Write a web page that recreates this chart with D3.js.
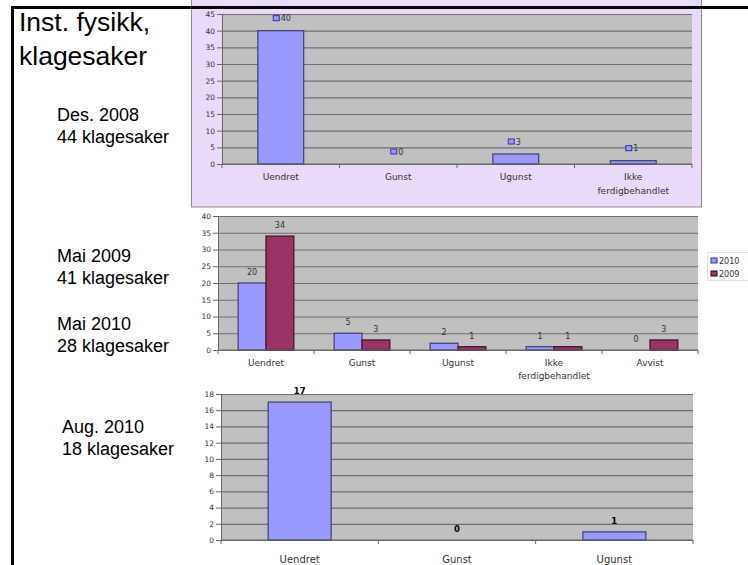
<!DOCTYPE html>
<html lang='no'>
<head>
  <meta charset='UTF-8'>
  <title>Inst. fysikk, klagesaker</title>
  <style>
    body { margin: 0; background: #fff; }
    svg { display: block; }
    .side { font-family: 'Liberation Sans', Arial, sans-serif; fill: #000; }
    .tick text { font-family: 'DejaVu Sans', Verdana, sans-serif; font-size: 7.5px; fill: #333; }
    .cat { font-family: 'Comic Sans MS', 'DejaVu Sans', sans-serif; font-size: 8px; fill: #333; }
    .val { font-family: 'DejaVu Sans', Verdana, sans-serif; font-size: 7.5px; fill: #333; }
  </style>
</head>
<body>
<div id='chart'></div>
<script src='https://d3js.org/d3.v7.min.js'></script>
<script>
  // data
  var topCats = ['Uendret', 'Gunst', 'Ugunst', 'Ikke ferdigbehandlet']
  var topVals = [40, 0, 3, 1]

  var midCats = ['Uendret', 'Gunst', 'Ugunst', 'Ikke ferdigbehandlet', 'Avvist']
  var midSeries = ['2010', '2009']
  var mid2010 = [20, 5, 2, 1, 0]
  var mid2009 = [34, 3, 1, 1, 3]

  var botCats = ['Uendret', 'Gunst', 'Ugunst']
  var botVals = [17, 0, 1]

  var titleLines = ['Inst. fysikk,', 'klagesaker']
  var sideNotes = [
    ['Des. 2008', '44 klagesaker'],
    ['Mai 2009', '41 klagesaker'],
    ['Mai 2010', '28 klagesaker'],
    ['Aug. 2010', '18 klagesaker']
  ]

  var blue = '#9999ff', plum = '#993366'

  var svg = d3.select('#chart').append('svg')
    .attr('width', 748).attr('height', 565)

  // lavender panel behind the first chart
  svg.append('rect')
    .attr('x', 191.5).attr('y', -2).attr('width', 510).attr('height', 209)
    .style('fill', '#e8daf8').style('stroke', '#8a8a8a').style('stroke-width', 1)

  // generic bar chart
  var drawChart = function (cfg) {
    var g = svg.append('g')
    var x = d3.scaleBand().domain(cfg.cats).range([cfg.x0, cfg.x1]).padding(0)
    var y = d3.scaleLinear().domain([0, cfg.max]).range([cfg.y1, cfg.y0])
    var ticks = d3.range(0, cfg.max + 0.001, cfg.step)

    // plot area
    g.append('rect')
      .attr('x', cfg.x0).attr('y', cfg.y0)
      .attr('width', cfg.x1 - cfg.x0).attr('height', cfg.y1 - cfg.y0)
      .style('fill', '#c0c0c0')

    // gridlines
    g.append('g')
      .attr('transform', 'translate(' + cfg.x0 + ',0)')
      .call(d3.axisLeft(y).tickValues(ticks).tickSize(-(cfg.x1 - cfg.x0)).tickFormat(''))
      .call(function (s) {
        s.select('.domain').remove()
        s.selectAll('line').style('stroke', '#6e6e6e').style('stroke-width', 1.2)
      })

    // y axis
    g.append('g')
      .attr('transform', 'translate(' + cfg.x0 + ',0)')
      .call(d3.axisLeft(y).tickValues(ticks).tickSize(5).tickPadding(2))
      .call(function (s) {
        s.select('.domain').style('stroke', '#666')
        s.selectAll('line').style('stroke', '#666')
      })

    // bars
    var n = cfg.series.length
    var inner = d3.scaleBand().domain(d3.range(n))
      .range([-x.bandwidth() * cfg.frac / 2, x.bandwidth() * cfg.frac / 2])
    cfg.series.forEach(function (ser, si) {
      var bars = g.append('g')
      bars.selectAll('rect').data(ser.vals).enter().append('rect')
        .attr('x', function (d, i) { return x(cfg.cats[i]) + x.bandwidth() / 2 + inner(si) })
        .attr('y', function (d) { return y(d) })
        .attr('width', inner.bandwidth())
        .attr('height', function (d) { return cfg.y1 - y(d) })
        .style('fill', ser.color)
        .style('stroke', d3.color(ser.color).darker(2.2))
        .style('stroke-width', 1.3)

      // value labels
      ser.vals.forEach(function (d, i) {
        var cx = x(cfg.cats[i]) + x.bandwidth() / 2 + inner(si) + inner.bandwidth() / 2
        var ly = y(d) - cfg.labelGap
        if (cfg.keyLabels) {
          g.append('rect')
            .attr('x', cx - 7.5).attr('y', ly - 3).attr('width', 6).attr('height', 5)
            .style('fill', ser.color).style('stroke', '#333399').style('stroke-width', 1)
          g.append('text').attr('class', 'val')
            .attr('x', cx).attr('y', ly + 2.5).style('font-size', '8px').text(d)
        } else {
          g.append('text').attr('class', 'val')
            .attr('x', cx).attr('y', ly + 3).attr('text-anchor', 'middle')
            .style('font-weight', cfg.bold ? 'bold' : 'normal')
            .style('font-size', cfg.bold ? '8.5px' : '8px')
            .style('fill', cfg.bold ? '#000' : '#333')
            .text(d)
        }
      })
    })

    // x axis line and ticks at band edges
    g.append('line')
      .attr('x1', cfg.x0).attr('x2', cfg.x1).attr('y1', cfg.y1).attr('y2', cfg.y1)
      .style('stroke', '#666').style('stroke-width', 1)
    var edges = cfg.cats.map(function (c) { return x(c) }).concat([cfg.x1])
    g.selectAll('line.xt').data(edges).enter().append('line')
      .attr('class', 'xt')
      .attr('x1', function (d) { return d }).attr('x2', function (d) { return d })
      .attr('y1', cfg.y1).attr('y2', cfg.y1 + 4)
      .style('stroke', '#666')

    // category labels (long ones wrap after first word)
    cfg.cats.forEach(function (c) {
      var parts = c.split(' ')
      var t = g.append('text').attr('class', 'cat')
        .attr('text-anchor', 'middle')
        .style('font-size', cfg.catSize + 'px')
      parts.forEach(function (p, k) {
        t.append('tspan')
          .attr('x', x(c) + x.bandwidth() / 2)
          .attr('y', cfg.catY + k * cfg.catLine)
          .text(p)
      })
    })
    return g
  }

  drawChart({
    cats: topCats, series: [{vals: topVals, color: blue}],
    x0: 222, x1: 692, y0: 14, y1: 164, max: 45, step: 5,
    frac: 0.39, labelGap: 12, keyLabels: true,
    catY: 180, catLine: 14, catSize: 9
  })

  drawChart({
    cats: midCats,
    series: [{vals: mid2010, color: blue}, {vals: mid2009, color: plum}],
    x0: 218, x1: 698, y0: 216, y1: 350, max: 40, step: 5,
    frac: 0.58, labelGap: 11,
    catY: 366, catLine: 13, catSize: 9
  })

  drawChart({
    cats: botCats, series: [{vals: botVals, color: blue}],
    x0: 221, x1: 693, y0: 394, y1: 540, max: 18, step: 2,
    frac: 0.4, labelGap: 11, bold: true,
    catY: 563, catLine: 13, catSize: 10
  })

  // legend for middle chart
  var leg = svg.append('g')
  leg.append('rect')
    .attr('x', 707.5).attr('y', 252.5).attr('width', 45).attr('height', 28)
    .style('fill', '#fff').style('stroke', '#e2e2e2')
  var legColors = [blue, plum]
  midSeries.forEach(function (s, i) {
    leg.append('rect')
      .attr('x', 711).attr('y', 258 + i * 13).attr('width', 6).attr('height', 5)
      .style('fill', legColors[i]).style('stroke', i ? '#330022' : '#333399')
    leg.append('text').attr('class', 'val')
      .attr('x', 719).attr('y', 263.5 + i * 13).style('font-size', '8px').text(s)
  })

  // left-hand text
  titleLines.forEach(function (t, i) {
    svg.append('text').attr('class', 'side')
      .attr('x', 19).attr('y', 31 + i * 34)
      .style('font-size', '26.5px').text(t)
  })
  var notePos = [[57, 121], [57, 262], [57, 330], [62, 433]]
  sideNotes.forEach(function (lines, j) {
    lines.forEach(function (t, i) {
      svg.append('text').attr('class', 'side')
        .attr('x', notePos[j][0]).attr('y', notePos[j][1] + i * 22)
        .style('font-size', '18px').text(t)
    })
  })

  // outer frame
  svg.append('line')
    .attr('x1', 11).attr('x2', 748).attr('y1', 7.5).attr('y2', 7.5)
    .style('stroke', '#000').style('stroke-width', 3)
  svg.append('line')
    .attr('x1', 12.5).attr('x2', 12.5).attr('y1', 6).attr('y2', 565)
    .style('stroke', '#000').style('stroke-width', 3)
</script>
</body>
</html>
